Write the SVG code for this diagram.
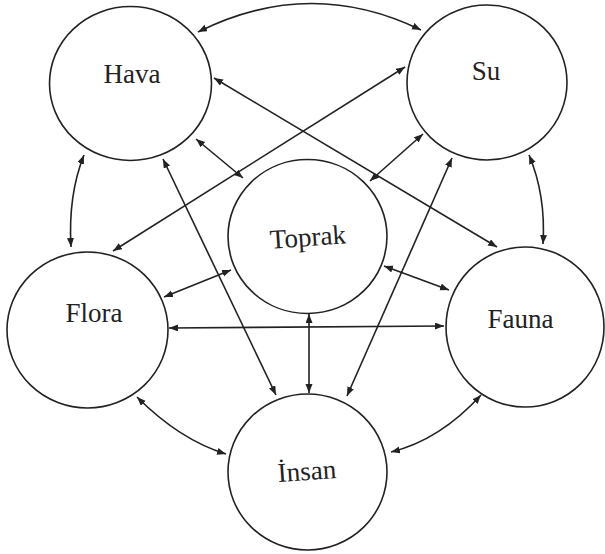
<svg xmlns="http://www.w3.org/2000/svg" width="605" height="554" viewBox="0 0 605 554">
  <style>
    .node { fill: #ffffff; stroke: #222222; stroke-width: 1.6; }
    .label { font-family: "Liberation Serif", "Times New Roman", serif; font-size: 27px; fill: #222222; text-anchor: middle; }
    .link { fill: none; stroke: #222222; stroke-width: 1.6; marker-start: url(#arr); marker-end: url(#arr); }
  </style>
  <defs>
    <marker id="arr" markerUnits="userSpaceOnUse" markerWidth="10" markerHeight="8" refX="9" refY="3.5" orient="auto-start-reverse">
      <path d="M0,0 L9,3.5 L0,7 z" fill="#222222"/>
    </marker>
  </defs>
  <rect width="605" height="554" fill="#ffffff"/>

  <g id="connectors">
    <path class="link" d="M198,32 Q310,-24 421,30"/>
    <path class="link" d="M84,155 Q68,195 71,247"/>
    <path class="link" d="M529,155 Q546,195 543,244"/>
    <path class="link" d="M137,397 Q180,440 226,454"/>
    <path class="link" d="M481,395 Q440,440 391,452"/>
    <path class="link" d="M214,78 L497,247"/>
    <path class="link" d="M405,67 L113,251"/>
    <path class="link" d="M163,159 L276,395"/>
    <path class="link" d="M452,158 L347,396"/>
    <path class="link" d="M169,328 L444,326"/>
    <path class="link" d="M243,178 L196,139"/>
    <path class="link" d="M370,181 L423,134"/>
    <path class="link" d="M231,270 L164,297"/>
    <path class="link" d="M384,266 L449,290"/>
    <path class="link" d="M309,314 L309,393"/>
  </g>

  <g id="hava">
    <ellipse class="node" cx="130.5" cy="83.5" rx="81" ry="77"/>
    <text class="label" x="132" y="83">Hava</text>
  </g>
  <g id="su">
    <ellipse class="node" cx="487" cy="82.5" rx="80" ry="77.5"/>
    <text class="label" x="486" y="80">Su</text>
  </g>
  <g id="toprak">
    <ellipse class="node" cx="307.5" cy="236.5" rx="79.5" ry="77"/>
    <text class="label" x="308.5" y="246" transform="rotate(-4 308.5 246)">Toprak</text>
  </g>
  <g id="flora">
    <ellipse class="node" cx="87.5" cy="330" rx="80.5" ry="78"/>
    <text class="label" x="94" y="322">Flora</text>
  </g>
  <g id="fauna">
    <ellipse class="node" cx="525" cy="327" rx="79" ry="80"/>
    <text class="label" x="520.5" y="328">Fauna</text>
  </g>
  <g id="insan">
    <ellipse class="node" cx="307.5" cy="472" rx="79.5" ry="78"/>
    <text class="label" x="307.5" y="480" transform="rotate(-4 307.5 480)">İnsan</text>
  </g>
</svg>
